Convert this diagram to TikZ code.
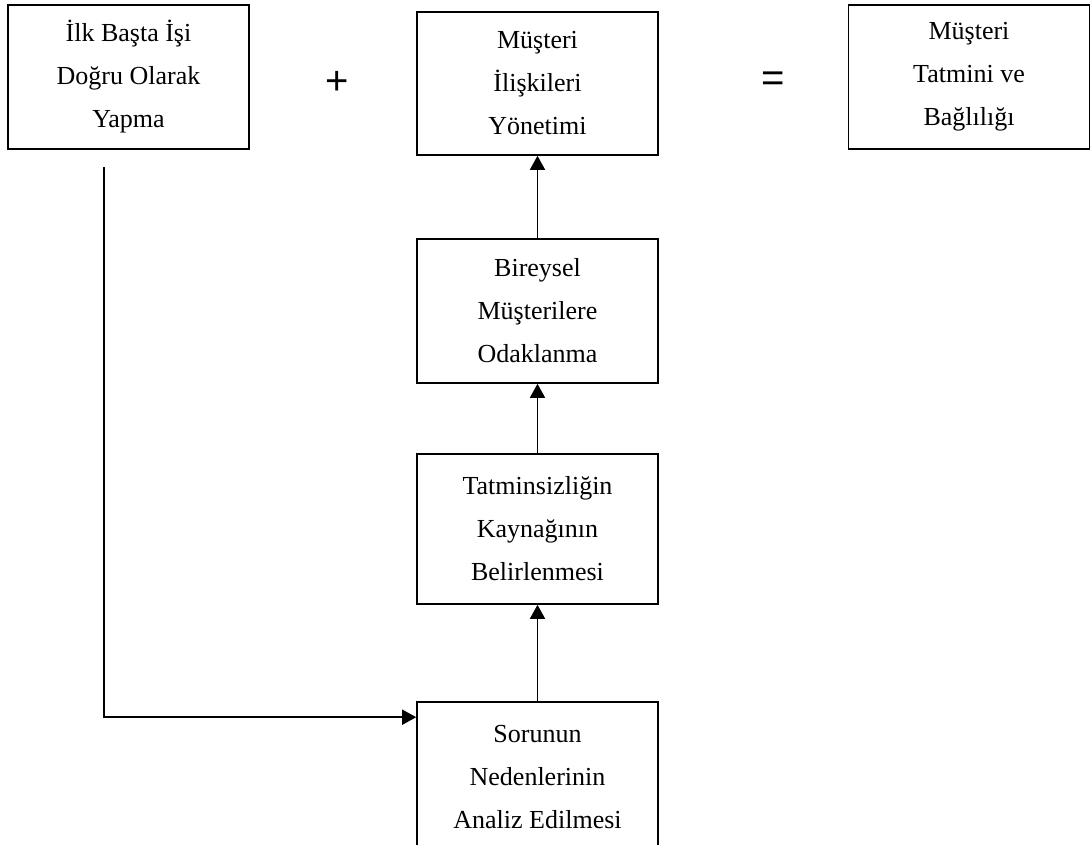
\documentclass[tikz,border=0pt]{standalone}
\usepackage{fontspec}
\setmainfont{Liberation Serif}
\newfontfamily\opsfont{Liberation Sans}
\usepackage{tikz}
\usetikzlibrary{arrows.meta, positioning}

\begin{document}
\begin{tikzpicture}[x=1pt, y=-1pt,
  stage/.style={rectangle, draw, line width=1.6pt, fill=white,
    minimum width=241pt, minimum height=144pt, inner sep=0pt,
    font=\fontsize{26}{43}\selectfont, align=center},
  op/.style={font=\opsfont\fontsize{40}{40}\selectfont, inner sep=0pt},
  flow/.style={-{Triangle[length=14pt, width=15pt]}, line width=1.6pt}
]
  \useasboundingbox (0,0) rectangle (1090,845);

  %% top row
  \node[stage] (ilk) at (128.5, 77)
    {İlk Başta İşi \\ Doğru Olarak \\ Yapma};
  \node[op] (plus) at (337, 83) {+};
  \node[stage, minimum height=143pt] (iliski) at (537.5, 83.5)
    {Müşteri \\ İlişkileri \\ Yönetimi};
  \node[op] (esit) at (773, 82) {=};
  \node[stage] (tatmin) at (969, 77)
    {Müşteri \\ Tatmini ve \\ Bağlılığı};

  %% middle column
  \node[stage] (bireysel) at (537.5, 311)
    {Bireysel \\ Müşterilere \\ Odaklanma};
  \node[stage, minimum height=150pt] (kaynak) at (537.5, 529)
    {Tatminsizliğin \\ Kaynağının \\ Belirlenmesi};
  \node[stage, minimum height=150pt] (analiz) at (537.5, 777)
    {Sorunun \\ Nedenlerinin \\ Analiz Edilmesi};

  %% connectors
  \draw[flow] (analiz.north) -- (kaynak.south);
  \draw[flow] (kaynak.north) -- (bireysel.south);
  \draw[flow] (bireysel.north) -- (iliski.south);

  \coordinate (dogru) at (104, 167);
  \draw[flow] (dogru) |- ([yshift=-16pt]analiz.north west);

\end{tikzpicture}
\end{document}
